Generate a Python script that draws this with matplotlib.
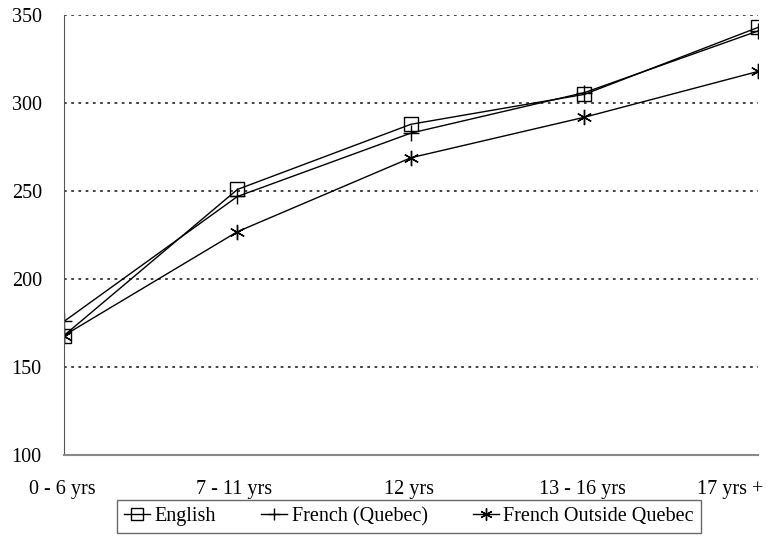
import matplotlib.pyplot as plt
import matplotlib.transforms as mtransforms

plt.rcParams['font.family'] = ['Liberation Serif', 'DejaVu Serif']

categories = ['0 - 6 yrs', '7 - 11 yrs', '12 yrs', '13 - 16 yrs', '17 yrs +']
english = [168, 251, 288, 305, 343]
french_quebec = [176, 247, 283, 306, 341]
french_outside = [168, 227, 269, 292, 318]

fig = plt.figure(figsize=(7.69, 5.40), dpi=100)
fig.set_facecolor('white')
ax = fig.add_axes([0.0832, 0.157, 0.9025, 0.815])

x = range(len(categories))
ax.plot(x, english, color='black', lw=1, marker='s', ms=10, mfc='none', mec='black', mew=1, label='English')
ax.plot(x, french_quebec, color='black', lw=1, marker='+', ms=11, mew=1, label='French (Quebec)')
ax.plot(x, french_outside, color='black', lw=1, marker=(6, 2, 0), ms=11, mew=1, label='French Outside Quebec')

ax.set_xlim(0, len(categories) - 1)
ax.set_ylim(100, 350)
ax.set_yticks([100, 150, 200, 250, 300, 350])
ax.set_xticks(list(x))
ax.set_xticklabels(categories)
ax.tick_params(axis='both', length=0, labelsize=14.5)
ax.tick_params(axis='x', pad=18)
ax.tick_params(axis='y', pad=16)

# keep the last label inside the figure
offsets = [-2, -3, -2, -2, -28]
for lab, dx in zip(ax.get_xticklabels(), offsets):
    lab.set_transform(lab.get_transform() + mtransforms.ScaledTranslation(dx / 100, 0, fig.dpi_scale_trans))

ax.yaxis.grid(True, linestyle=(0, (1.5, 2.5)), color='#333333', lw=1.3)
ax.set_axisbelow(True)
for s in ['top', 'right']:
    ax.spines[s].set_visible(False)
ax.spines['left'].set_color('#555555')
ax.spines['bottom'].set_color('#888888')
ax.spines['bottom'].set_linewidth(1.5)

leg = ax.legend(loc='upper center', bbox_to_anchor=(0.497, -0.102), ncol=3, frameon=True, fancybox=False,
                edgecolor='#444444', fontsize=14.5, handlelength=1.3, handletextpad=0.2,
                columnspacing=2.25, borderpad=0.35, borderaxespad=0, markerscale=0.8)
leg.get_frame().set_linewidth(1)

plt.savefig('out.png', dpi=100)
